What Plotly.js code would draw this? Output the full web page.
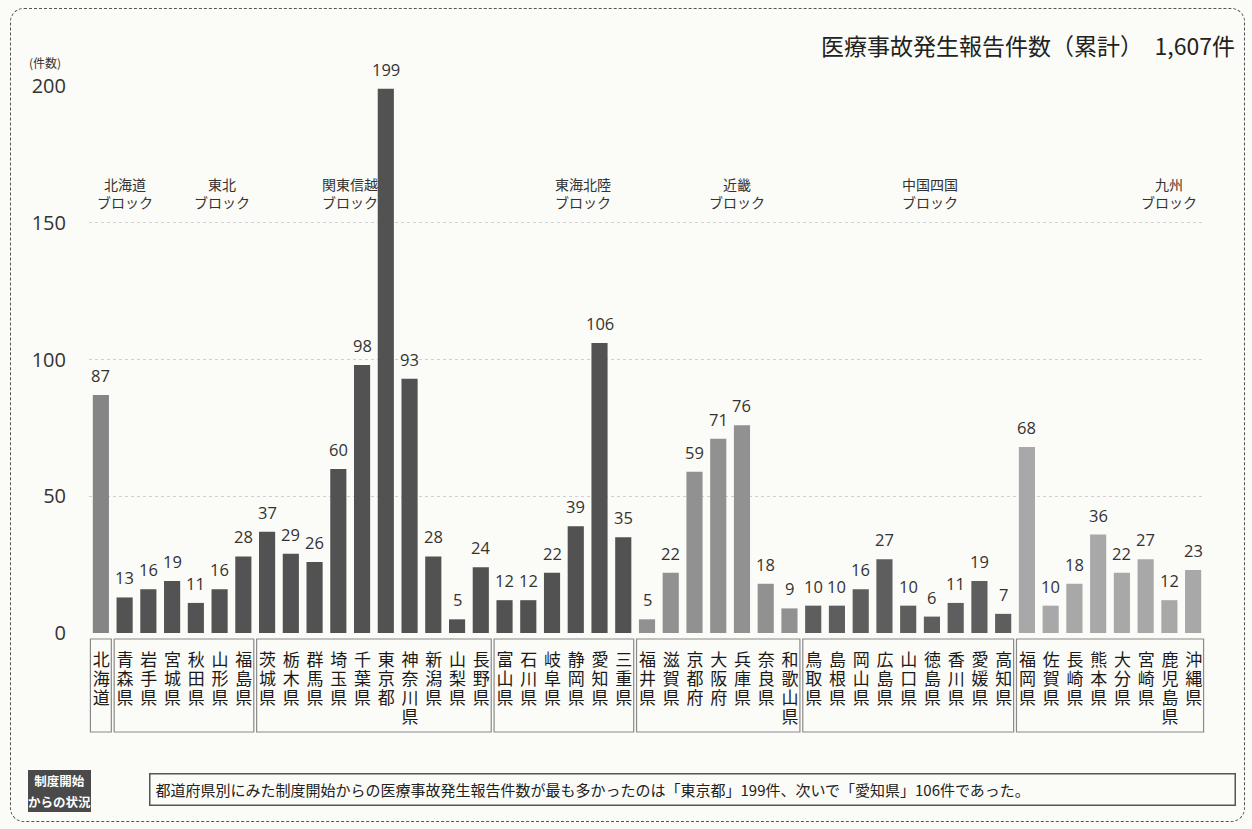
<!DOCTYPE html>
<html>
<head>
<meta charset="utf-8">
<script src="https://cdn.plot.ly/plotly-3.0.1.min.js"></script>
<style>
  html, body { margin:0; padding:0; background:#fbfbf7; }
  #wrap { position:relative; width:1252px; height:829px; }
  #chart { width:1252px; height:829px; }
  #frame { position:absolute; left:10px; top:8px; width:1233px; height:812px;
           border:1.5px dashed #555; border-radius:14px; pointer-events:none; }
  .pref { position:absolute; writing-mode:vertical-rl; text-orientation:upright;
          font-family:'Noto Sans CJK JP', sans-serif; font-size:17px; line-height:20px;
          letter-spacing:2px; color:#1a1a1a; width:20px; white-space:nowrap; pointer-events:none; }
</style>
</head>
<body>
<div id="wrap"><div id="chart"></div><div id="frame"></div></div>
<script>
// ---- data ----
const prefectures = ["北海道",
  "青森県","岩手県","宮城県","秋田県","山形県","福島県",
  "茨城県","栃木県","群馬県","埼玉県","千葉県","東京都","神奈川県","新潟県","山梨県","長野県",
  "富山県","石川県","岐阜県","静岡県","愛知県","三重県",
  "福井県","滋賀県","京都府","大阪府","兵庫県","奈良県","和歌山県",
  "鳥取県","島根県","岡山県","広島県","山口県","徳島県","香川県","愛媛県","高知県",
  "福岡県","佐賀県","長崎県","熊本県","大分県","宮崎県","鹿児島県","沖縄県"];
const counts = [87,
  13,16,19,11,16,28,
  37,29,26,60,98,199,93,28,5,24,
  12,12,22,39,106,35,
  5,22,59,71,76,18,9,
  10,10,16,27,10,6,11,19,7,
  68,10,18,36,22,27,12,23];
const blockNames = ["北海道<br>ブロック","東北<br>ブロック","関東信越<br>ブロック","東海北陸<br>ブロック","近畿<br>ブロック","中国四国<br>ブロック","九州<br>ブロック"];
const blockSizes = [1,6,10,6,7,9,8];
const blockLabelPos = [1.0,5.1,10.5,20.3,26.8,34.9,45.0];
const blockColors = ["#858585","#535353","#525252","#525252","#919191","#5e5e5e","#a8a8a8"];
const yTicks = [0,50,100,150,200];
const titleText = "医療事故発生報告件数（累計）　1,607件";
const unitText = "(件数)";
const noteHeadLines = ["制度開始","からの状況"];
const noteText = "都道府県別にみた制度開始からの医療事故発生報告件数が最も多かったのは「東京都」199件、次いで「愛知県」106件であった。";

// ---- layout helpers ----
const W = 1252, H = 829, ML = 89, MR = 47, MT = 86, MB = 196;
const PW = W - ML - MR, PH = H - MT - MB;
const px2x = p => (p - ML) / PW;
const py2y = p => (H - MB - p) / PH;

const idx = prefectures.map((_, i) => i);
const colors = [];
const shapes = [];
let start = 0;
blockSizes.forEach((n, b) => {
  for (let k = 0; k < n; k++) colors.push(blockColors[b]);
  shapes.push({type:"rect", xref:"x", yref:"paper",
    x0:start - 0.44, x1:start + n - 1 + 0.44, y0:py2y(639), y1:py2y(732),
    line:{color:"#8a8a8a", width:1.2}, fillcolor:"rgba(0,0,0,0)"});
  start += n;
});
// dark header box of the note
shapes.push({type:"rect", xref:"paper", yref:"paper",
  x0:px2x(28), x1:px2x(91), y0:py2y(770), y1:py2y(812),
  line:{width:0}, fillcolor:"#4a4a4a"});

const JP = "'Noto Sans CJK JP', 'Noto Sans', sans-serif";
const NUM = "'Open Sans', 'Noto Sans', sans-serif";

const trace = {
  type:"bar", x:idx, y:counts, width:0.68,
  marker:{color:colors}, hoverinfo:"skip"
};

const annotations = [];
counts.forEach((v, i) => annotations.push({
  x:i, y:v, xref:"x", yref:"y", text:String(v), showarrow:false, yanchor:"bottom", yshift:6,
  font:{family:NUM, size:16.5, color:"#333"}}));
blockNames.forEach((t, b) => annotations.push({
  x:blockLabelPos[b], y:161, xref:"x", yref:"y", text:t, showarrow:false,
  font:{family:JP, size:14, color:"#333"}, align:"center", yanchor:"middle"}));
annotations.push({x:px2x(1237), y:py2y(45), xref:"paper", yref:"paper", xanchor:"right", yanchor:"middle",
  text:titleText, showarrow:false, font:{family:JP, size:23, color:"#222"}});
annotations.push({x:px2x(27), y:py2y(62), xref:"paper", yref:"paper", xanchor:"left", yanchor:"middle",
  text:unitText, showarrow:false, font:{family:JP, size:12, color:"#333"}});
noteHeadLines.forEach((t, k) => annotations.push({x:px2x(59.5), y:py2y(780.5 + k * 21), xref:"paper", yref:"paper",
  xanchor:"center", yanchor:"middle", text:"<b>" + t + "</b>", showarrow:false, borderpad:0, borderwidth:0,
  width:63, height:21, bgcolor:"#4a4a4a", align:"center",
  font:{family:JP, size:12.5, color:"#fff"}}));
annotations.push({x:px2x(149), y:py2y(790), xref:"paper", yref:"paper", xanchor:"left", yanchor:"middle",
  text:noteText, showarrow:false, bordercolor:"#555", borderwidth:1.5, borderpad:5,
  width:1074, height:20, align:"left", font:{family:JP, size:15, color:"#222"}});

const layout = {
  width:W, height:H,
  margin:{l:ML, r:MR, t:MT, b:MB},
  paper_bgcolor:"#fbfbf7", plot_bgcolor:"rgba(0,0,0,0)",
  showlegend:false,
  xaxis:{range:[-0.5, prefectures.length - 0.5], showticklabels:false, ticks:"",
    showgrid:false, zeroline:false, showline:false},
  yaxis:{range:[0,200], tickmode:"array", tickvals:yTicks, ticks:"",
    showgrid:true, gridcolor:"#d0d0d0", griddash:"dot", gridwidth:1,
    zeroline:false, showline:false, ticklabelstandoff:22,
    tickfont:{family:NUM, size:20, color:"#333"}},
  shapes:shapes, annotations:annotations
};

Plotly.newPlot("chart", [trace], layout, {displayModeBar:false, staticPlot:true}).then(gd => {
  const xa = gd._fullLayout.xaxis;
  const wrap = document.getElementById("wrap");
  prefectures.forEach((name, i) => {
    const d = document.createElement("div");
    d.className = "pref";
    d.textContent = name;
    d.style.left = (xa._offset + xa.l2p(i) - 10) + "px";
    d.style.top = "651px";
    wrap.appendChild(d);
  });
});
</script>
</body>
</html>
